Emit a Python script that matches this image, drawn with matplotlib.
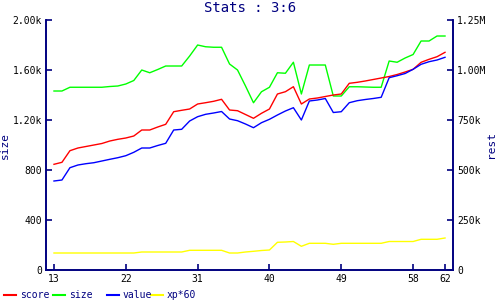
import numpy as np
import matplotlib
matplotlib.use("Agg")
import matplotlib.pyplot as plt

# game number on x axis
games = list(range(13, 63))

# left axis ("size")
size = [1432, 1432, 1462, 1462, 1462, 1462, 1462, 1468, 1472, 1488,
        1516, 1600, 1578, 1604, 1632, 1632, 1632, 1712, 1800, 1786,
        1782, 1782, 1648, 1600, 1472, 1338, 1426, 1462, 1578, 1574,
        1662, 1408, 1640, 1640, 1640, 1392, 1392, 1466, 1466, 1464,
        1462, 1462, 1672, 1662, 1696, 1724, 1832, 1832, 1872, 1872]

# right axis ("rest")
score = [528500, 538500, 596500, 610000, 617500, 625000, 632500, 645000, 653500, 660000,
         670000, 700000, 700000, 715000, 728500, 791500, 798500, 805000, 830000, 836500,
         843500, 853500, 800000, 796500, 777500, 758500, 783500, 805000, 880000, 891500,
         916500, 830000, 855000, 860000, 867500, 875000, 880000, 933500, 938500, 945000,
         952500, 960000, 967500, 977500, 990000, 1003500, 1038500, 1053500, 1066500, 1088500]

value = [445000, 450000, 511500, 525000, 531500, 536500, 545000, 553500, 561500, 571500,
         588500, 610000, 610000, 622500, 633500, 700000, 703500, 745000, 766500, 778500,
         785000, 792500, 755000, 746500, 730000, 711500, 736500, 753500, 775000, 795000,
         811500, 750000, 845000, 850000, 857500, 787500, 791500, 836500, 846500, 852500,
         857500, 863500, 961500, 971500, 982500, 1003500, 1028500, 1041500, 1050000, 1063500]

xp60 = [85000, 85000, 85000, 85000, 85000, 85000, 85000, 85000, 85000, 85000,
        85000, 90000, 90000, 90000, 90000, 90000, 90000, 98500, 98500, 98500,
        98500, 98500, 85000, 85000, 90000, 93500, 97500, 100000, 138500, 140000,
        142500, 118500, 133500, 133500, 133500, 128500, 133500, 133500, 133500, 133500,
        133500, 133500, 142500, 142500, 142500, 142500, 153500, 153500, 153500, 160000]

left_ticks = [0, 400, 800, 1200, 1600, 2000]
left_labels = ["0", "400", "800", "1.20k", "1.60k", "2.00k"]
right_ticks = [0, 250000, 500000, 750000, 1000000, 1250000]
right_labels = ["0", "250k", "500k", "750k", "1.00M", "1.25M"]
x_ticks = [13, 22, 31, 40, 49, 58, 62]

navy = "#000080"
mono = "DejaVu Sans Mono"

fig = plt.figure(figsize=(5, 3), dpi=100)
ax = fig.add_axes([0.092, 0.1, 0.814, 0.8333])
ax2 = ax.twinx()

ax.plot(games, size, color="#00ff00", lw=1)
ax2.plot(games, score, color="#ff0000", lw=1)
ax2.plot(games, value, color="#0000ff", lw=1)
ax2.plot(games, xp60, color="#ffff00", lw=1)

ax.set_xlim(12, 63)
ax.set_ylim(0, 2000)
ax2.set_ylim(0, 1250000)

ax.set_xticks(x_ticks)
ax.set_xticklabels([str(t) for t in x_ticks], fontsize=7, family=mono)
ax.set_yticks(left_ticks)
ax.set_yticklabels(left_labels, fontsize=7, family=mono)
ax2.set_yticks(right_ticks)
ax2.set_yticklabels(right_labels, fontsize=7, family=mono)

for a in (ax, ax2):
    a.patch.set_visible(False)
    a.spines["top"].set_visible(False)
    for s in ("left", "right", "bottom"):
        a.spines[s].set_color(navy)
        a.spines[s].set_linewidth(1.2)
    a.tick_params(direction="in", length=4, width=1.2, color=navy, pad=3)

ax.set_ylabel("size", color=navy, fontsize=8, family=mono, labelpad=2)
fig.text(0.982, 0.52, "rest", ha="center", va="center", rotation=90,
         color=navy, fontsize=8, family=mono)
fig.text(0.5, 0.972, "Stats : 3:6", ha="center", va="center", color=navy,
         fontsize=10, family=mono)

# legend row along the bottom
items = [("score", "#ff0000", 4), ("size", "#00ff00", 53),
         ("value", "#0000ff", 107), ("xp*60", "#ffff00", 151)]
for name, col, x0 in items:
    fig.add_artist(plt.Line2D([x0 / 500, (x0 + 12) / 500], [1 - 295 / 300] * 2,
                              color=col, lw=1.5, transform=fig.transFigure))
    fig.text((x0 + 16) / 500, 1 - 295 / 300, name, ha="left", va="center",
             color=navy, fontsize=7, family=mono)

fig.savefig("out.png", dpi=100)
